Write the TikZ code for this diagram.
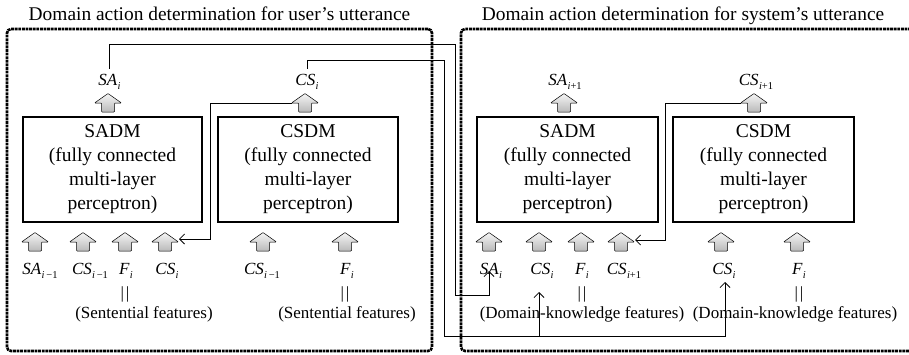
\documentclass[tikz,border=0pt]{standalone}
\usepackage{fontspec}
\setmainfont{Liberation Serif}
\usetikzlibrary{arrows.meta}
\newcommand\vlab[2]{\textit{#1}\kern0.3pt\raisebox{-4pt}{\fontsize{10.5}{10.5}\selectfont #2}}
\begin{document}
\begin{tikzpicture}[x=1pt,y=-1pt,
  frame/.style={draw, line width=2.6pt, dash pattern=on 2.8pt off 0.8pt, rounded corners=4pt, inner sep=0pt},
  model/.style={draw, line width=2.8pt, minimum height=105pt, align=center, font=\fontsize{19.5}{24}\selectfont, inner sep=0pt},
  lab/.style={font=\fontsize{17}{20}\selectfont, inner sep=1pt, anchor=base},
  ttl/.style={font=\fontsize{19.4}{24}\selectfont, inner sep=0pt, anchor=base},
  conn/.style={line width=0.8pt},
  arr/.style={conn, -{Straight Barb[length=5pt,width=10pt]}},
  blockup/.pic={
    \shade[draw=black, line width=0.5pt, top color=gray!8, bottom color=gray!55, rounded corners=0.8pt]
      (-6.5,0) -- (-6.5,-9) -- (-13.5,-9) -- (0,-18.5) -- (13.5,-9) -- (6.5,-9) -- (6.5,0) -- cycle;
    \coordinate (-hl) at (-13.5,-9);
    \coordinate (-hr) at (13.5,-9);
  }
]
\useasboundingbox (0,0) rectangle (909,354);
\clip (0,0) rectangle (909,354);

% titles
\node[ttl] (tL) at (219.5,20) {Domain action determination for user’s utterance};
\node[ttl] (tR) at (683,20) {Domain action determination for system’s utterance};

% frames
\node[frame, minimum width=425pt, minimum height=322pt] (fL) at (219.5,190) {};
\node[frame, minimum width=454pt, minimum height=322pt] (fR) at (688,190) {};

% model boxes
\node[model, minimum width=179pt] (sadm1) at (112.5,169.5) {SADM\\(fully connected\\multi-layer\\perceptron)};
\node[model, minimum width=180pt] (csdm1) at (308,169.5) {CSDM\\(fully connected\\multi-layer\\perceptron)};
\node[model, minimum width=181pt] (sadm2) at (567.5,169.5) {SADM\\(fully connected\\multi-layer\\perceptron)};
\node[model, minimum width=181pt] (csdm2) at (763.5,169.5) {CSDM\\(fully connected\\multi-layer\\perceptron)};

% output block arrows
\pic (ua1) at (108,112) {blockup};
\pic (ua2) at (305,112) {blockup};
\pic (ua3) at (564,112) {blockup};
\pic (ua4) at (754,112) {blockup};

% output labels
\node[lab] (lsa1) at (109.5,85) {\vlab{SA}{\textit{i}}};
\node[lab] (lcs1) at (307,85) {\vlab{CS}{\textit{i}}};
\node[lab] (lsa2) at (565,85) {\vlab{SA}{\textit{i}+1}};
\node[lab] (lcs2) at (756,85) {\vlab{CS}{\textit{i}+1}};

% input block arrows, left
\pic (a11) at (35,251) {blockup};
\pic (a12) at (83,251) {blockup};
\pic (a13) at (125,251) {blockup};
\pic (a14) at (165,251) {blockup};
\pic (a15) at (263,251) {blockup};
\pic (a16) at (345,251) {blockup};
% input block arrows, right
\pic (a21) at (489,251) {blockup};
\pic (a22) at (539,251) {blockup};
\pic (a23) at (581,251) {blockup};
\pic (a24) at (621,251) {blockup};
\pic (a25) at (721,251) {blockup};
\pic (a26) at (797,251) {blockup};

% input labels, left
\node[lab] (b11) at (40,274) {\vlab{SA}{\textit{i}\,−1}};
\node[lab] (b12) at (90,274) {\vlab{CS}{\textit{i}\,−1}};
\node[lab] (b13) at (126,274) {\vlab{F}{\textit{i}}};
\node[lab] (b14) at (167,274) {\vlab{CS}{\textit{i}}};
\node[lab] (b15) at (262,274) {\vlab{CS}{\textit{i}\,−1}};
\node[lab] (b16) at (347,274) {\vlab{F}{\textit{i}}};
% input labels, right
\node[lab] (b21) at (491,274) {\vlab{SA}{\textit{i}}};
\node[lab] (b22) at (542,274) {\vlab{CS}{\textit{i}}};
\node[lab] (b23) at (582,274) {\vlab{F}{\textit{i}}};
\node[lab] (b24) at (624,274) {\vlab{CS}{\textit{i}+1}};
\node[lab] (b25) at (724,274) {\vlab{CS}{\textit{i}}};
\node[lab] (b26) at (799,274) {\vlab{F}{\textit{i}}};

% equivalence bars and feature names
\node[lab] (e1) at (125,298) {|\kern2pt|};
\node[lab] (e2) at (345,298) {|\kern2pt|};
\node[lab] (e3) at (582,298) {|\kern2pt|};
\node[lab] (e4) at (799,298) {|\kern2pt|};
\node[lab] (s1) at (144,318) {(Sentential features)};
\node[lab] (s2) at (347,318) {(Sentential features)};
\node[lab] (s3) at (582,318) {(Domain-knowledge features)};
\node[lab] (s4) at (795,318) {(Domain-knowledge features)};

% connector end points
\coordinate (tSA) at (489,271);
\coordinate (tCSa) at (539,292);
\coordinate (tCSb) at (725,282);
\coordinate (t3) at (179,239);
\coordinate (t4) at (635,240);

% connectors
\draw[arr, shorten <=4pt] (lsa1.north) |- (455,44) |- (489,295) -- (tSA);
\draw[arr, shorten <=4pt] (lcs1.north) |- (444,60) |- (725,336) -- (tCSb);
\draw[arr] (539,336) -- (tCSa);
\draw[arr] (ua2-hl) -| (210,239) -- (t3);
\draw[arr] (ua4-hl) -| (665,240) -- (t4);
\end{tikzpicture}
\end{document}
